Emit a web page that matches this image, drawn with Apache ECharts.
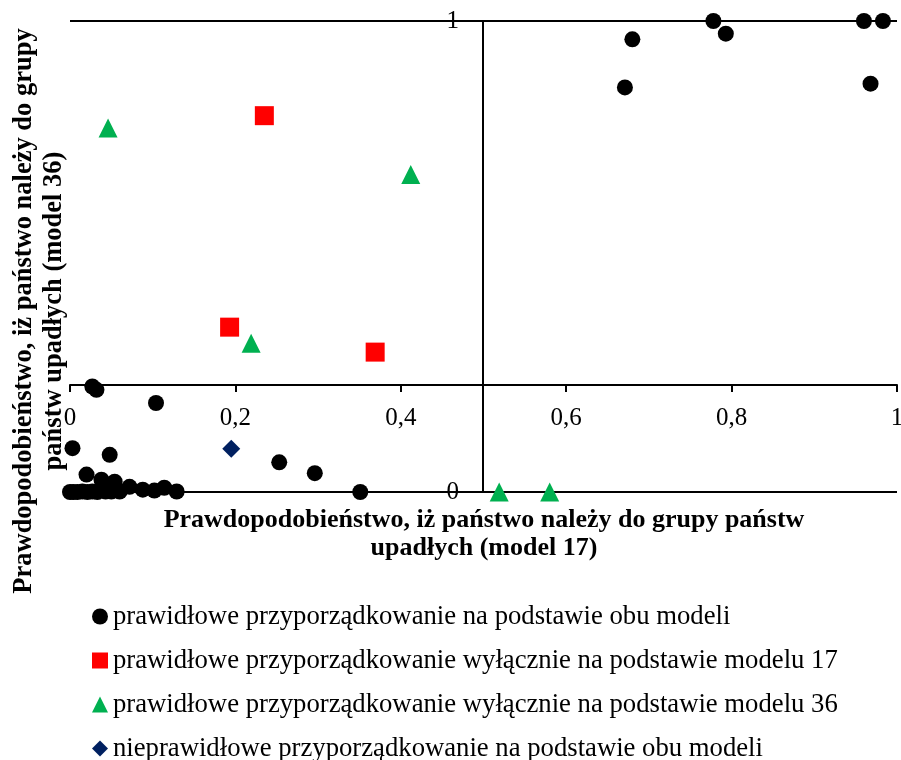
<!DOCTYPE html>
<html>
<head>
<meta charset="utf-8">
<script src="https://cdn.jsdelivr.net/npm/echarts@6/dist/echarts.min.js"></script>
<style>
  html, body { margin: 0; padding: 0; background: #fff; }
  #chart { width: 901px; height: 760px; }
</style>
</head>
<body>
<div id="chart"></div>
<script>
var myChart = echarts.init(document.getElementById('chart'));

// [model 17, model 36]
var bothCorrect = [
    [0.778, 1.0], [0.793, 0.973], [0.680, 0.961], [0.671, 0.859],
    [0.960, 1.0], [0.983, 1.0], [0.968, 0.867],
    [0.027, 0.224], [0.032, 0.217], [0.104, 0.189], [0.003, 0.093],
    [0.048, 0.079], [0.253, 0.063], [0.296, 0.040], [0.351, 0.0],
    [0.020, 0.037],
    [0.0, 0.0], [0.004, 0.0], [0.009, 0.0], [0.015, 0.001], [0.021, 0.0],
    [0.027, 0.001], [0.033, 0.0], [0.038, 0.026], [0.043, 0.001],
    [0.050, 0.001], [0.054, 0.022], [0.060, 0.001], [0.072, 0.011],
    [0.088, 0.005], [0.102, 0.003], [0.114, 0.009], [0.129, 0.001]
];
var only17 = [[0.235, 0.799], [0.193, 0.350], [0.369, 0.297]];
var only36 = [[0.046, 0.773], [0.412, 0.674], [0.219, 0.316], [0.519, 0.0], [0.580, 0.0]];
var bothWrong = [[0.195, 0.092]];

var seriesNames = [
    'prawidłowe przyporządkowanie na podstawie obu modeli',
    'prawidłowe przyporządkowanie wyłącznie na podstawie modelu 17',
    'prawidłowe przyporządkowanie wyłącznie na podstawie modelu 36',
    'nieprawidłowe przyporządkowanie na podstawie obu modeli'
];

var xTickLabels = ['0', '0,2', '0,4', '0,6', '0,8', '1'];
var yTickLabels = ['0', '1'];

var xTitle = 'Prawdopodobieństwo, iż państwo należy do grupy państw\nupadłych (model 17)';
var yTitle = 'Prawdopodobieństwo, iż państwo należy do grupy\npaństw upadłych (model 36)';

var serif = 'Liberation Serif';
var black = '#000000';

option = {
    animation: false,
    grid: {
        left: 70,
        right: 4,
        top: 21,
        bottom: 268,
        outerBoundsMode: 'none'
    },
    legend: {
        orient: 'vertical',
        left: 92,
        top: 603,
        height: 200,
        padding: 0,
        itemWidth: 16,
        itemHeight: 16,
        itemGap: 17,
        data: seriesNames,
        textStyle: {
            fontFamily: serif,
            fontSize: 26.7,
            color: black
        }
    },
    xAxis: {
        type: 'value',
        min: 0,
        max: 1,
        interval: 0.2,
        position: 'bottom',
        offset: -107,   // horizontal axis crosses the vertical one at about 0,23
        splitLine: {show: false},
        axisLine: {
            onZero: false,
            lineStyle: {color: black, width: 2}
        },
        axisTick: {
            length: 7,
            lineStyle: {color: black, width: 2}
        },
        axisLabel: {
            margin: 21,
            fontFamily: serif,
            fontSize: 25,
            color: black,
            formatter: function (v) {
                return xTickLabels[Math.round(v / 0.2)];
            }
        }
    },
    yAxis: {
        type: 'value',
        min: 0,
        max: 1,
        interval: 1,
        position: 'left',
        offset: -413,   // vertical axis sits at x = 0,5
        splitLine: {
            show: true,
            lineStyle: {color: black, width: 2}
        },
        axisLine: {
            show: true,
            onZero: false,
            lineStyle: {color: black, width: 2}
        },
        axisTick: {show: false},
        axisLabel: {
            margin: 24,
            fontFamily: serif,
            fontSize: 25,
            color: black,
            formatter: function (v) {
                return yTickLabels[Math.round(v)];
            }
        }
    },
    graphic: [
        {
            type: 'text',
            x: 484,
            y: 506,
            style: {
                text: xTitle,
                font: 'bold 26px "Liberation Serif"',
                fill: black,
                align: 'center',
                verticalAlign: 'top',
                lineHeight: 28
            }
        },
        {
            type: 'text',
            x: 39,
            y: 311,
            rotation: Math.PI / 2,
            style: {
                text: yTitle,
                font: 'bold 26.5px "Liberation Serif"',
                fill: black,
                align: 'center',
                verticalAlign: 'middle',
                lineHeight: 30
            }
        }
    ],
    series: [
        {
            name: seriesNames[0],
            type: 'scatter',
            clip: false,
            symbol: 'circle',
            symbolSize: 16,
            itemStyle: {color: '#000000', opacity: 1},
            data: bothCorrect
        },
        {
            name: seriesNames[1],
            type: 'scatter',
            clip: false,
            symbol: 'rect',
            symbolSize: 19,
            itemStyle: {color: '#ff0000', opacity: 1},
            data: only17
        },
        {
            name: seriesNames[2],
            type: 'scatter',
            clip: false,
            symbol: 'triangle',
            symbolSize: 19,
            itemStyle: {color: '#00b050', opacity: 1},
            data: only36
        },
        {
            name: seriesNames[3],
            type: 'scatter',
            clip: false,
            symbol: 'diamond',
            symbolSize: 18,
            itemStyle: {color: '#002060', opacity: 1},
            data: bothWrong
        }
    ]
};

myChart.setOption(option);
</script>
</body>
</html>
